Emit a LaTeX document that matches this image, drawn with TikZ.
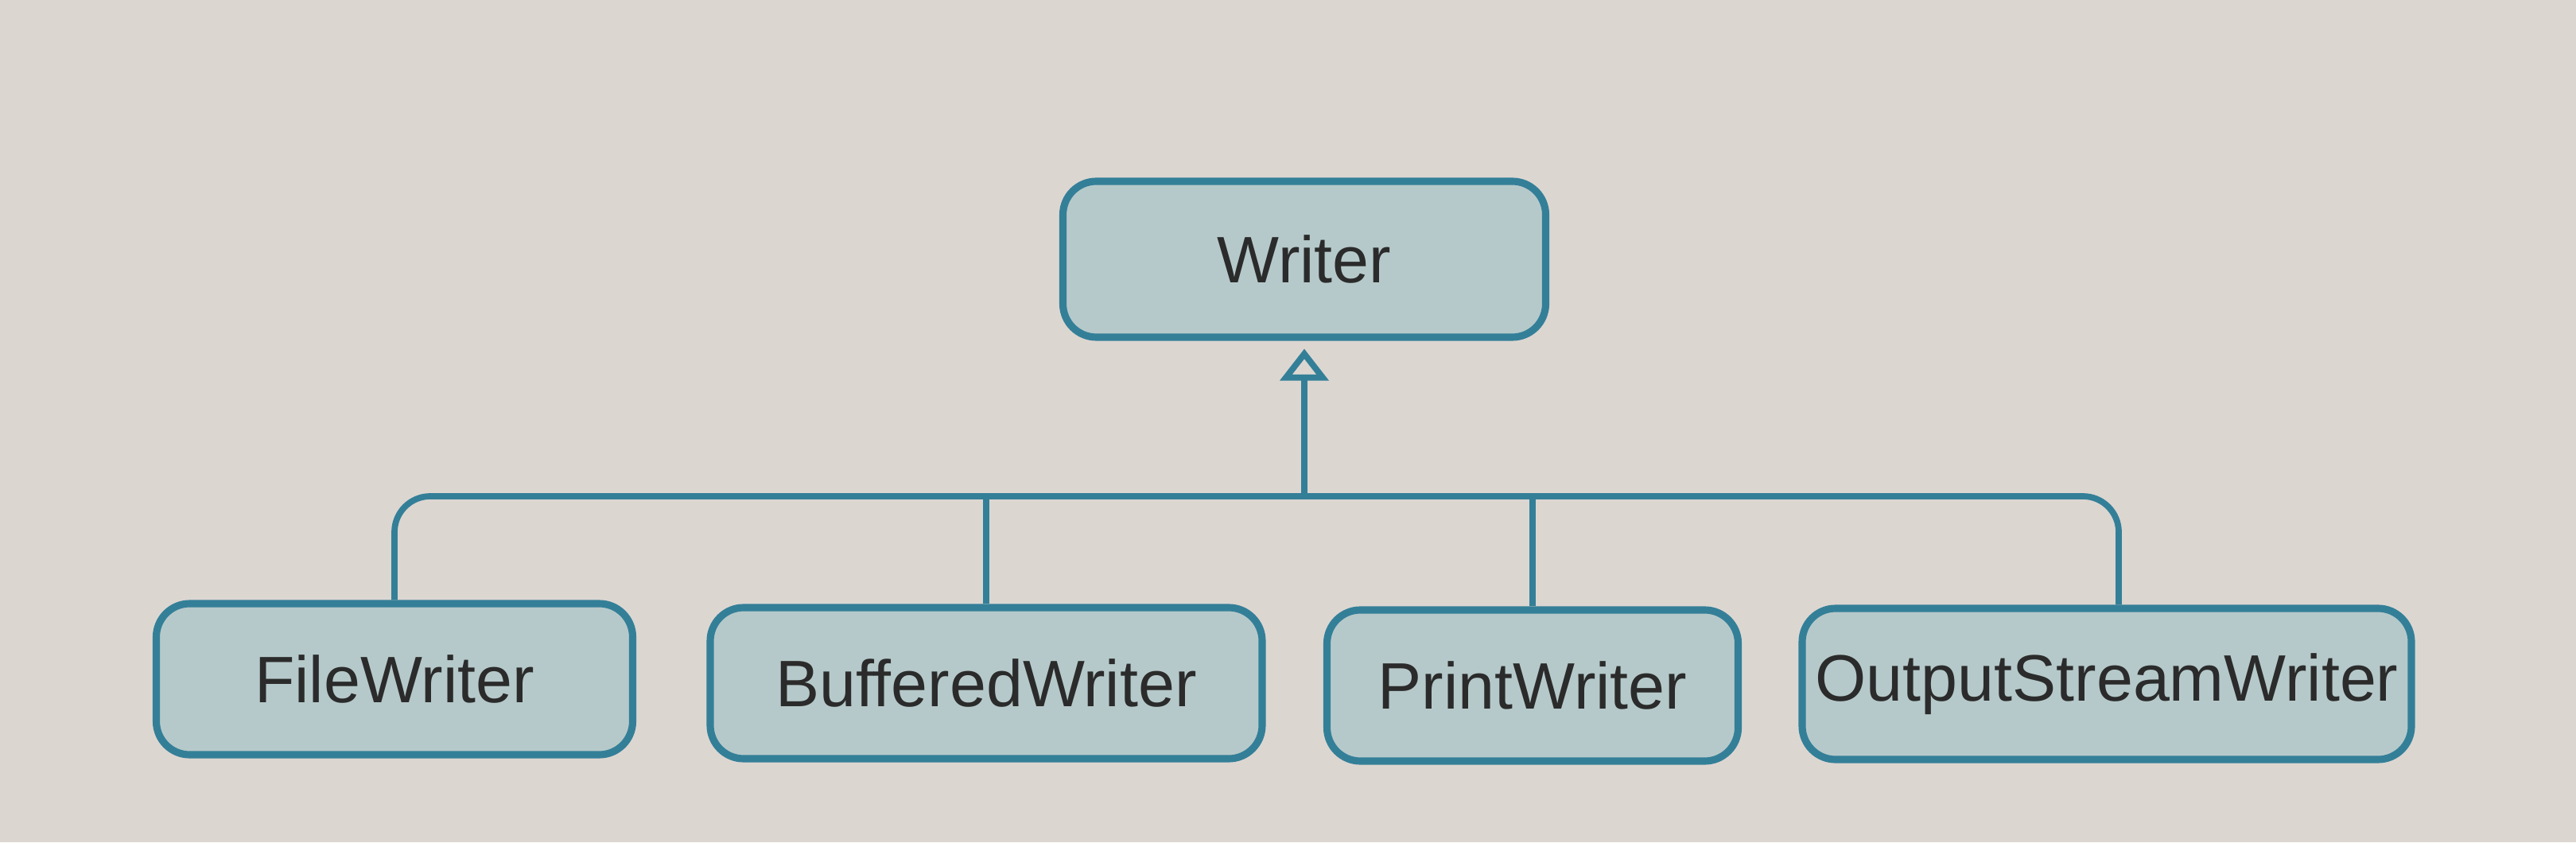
\documentclass[tikz,border=0pt]{standalone}
\usepackage{fontspec}
\setmainfont{Liberation Sans}
\usepackage{xcolor}
\usetikzlibrary{arrows.meta}

\definecolor{paper}{HTML}{DCD6D1}
\definecolor{boxfill}{HTML}{B6C9CA}
\definecolor{teal}{HTML}{347F98}
\definecolor{ink}{HTML}{2B2B2B}

\begin{document}
\begin{tikzpicture}[
    cls/.style={draw=teal, line width=2.6pt, fill=boxfill, rounded corners=0.42cm,
      minimum height=1.9cm, text=ink, font=\fontsize{23.5}{27}\selectfont},
    link/.style={draw=teal, line width=2.2pt},
    inherit/.style={link, -{Triangle[open, width=0.6cm, length=0.4cm, line width=2.2pt]}, shorten >=0.1cm}
  ]
      \fill[paper] (0,0) rectangle (32.39,10.59);
      \node[cls, minimum width=6.07cm, minimum height=1.96cm] (writer) at (16.40,7.33) {Writer};
      \node[cls, minimum width=5.99cm] (file) at (4.96,2.05) {FileWriter};
      \node[cls, minimum width=6.94cm] (buffered) at (12.40,2.0) {BufferedWriter};
      \node[cls, minimum width=5.17cm] (print) at (19.27,1.97) {PrintWriter};
      \node[cls, minimum width=7.66cm] (osw) at (26.49,1.99) {OutputStreamWriter};
      \coordinate (bus) at (0,4.35);
      \draw [link, rounded corners=0.45cm] (file.north) |- ([xshift=0.15cm]osw.north |- bus) -- ([xshift=0.15cm]osw.north);
      \draw [link] (buffered.north) -- (buffered.north |- bus);
      \draw [link] (print.north) -- (print.north |- bus);
      \draw [inherit] (writer.south |- bus) -- (writer.south);
    \end{tikzpicture}
\end{document}
